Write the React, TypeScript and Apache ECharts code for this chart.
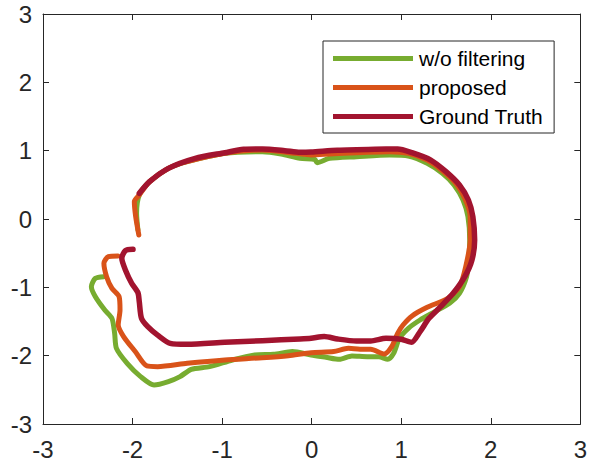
import React, { useEffect, useRef } from "react";
import * as echarts from "echarts";

const seriesNames = ["w/o filtering", "proposed", "Ground Truth"];
const seriesColors = ["#77AC30", "#D95319", "#A2142F"];
const axisTicks = [-3, -2, -1, 0, 1, 2, 3];

const woFiltering: [number, number][] = [
  [-2.32, -0.844], [-2.415, -0.868], [-2.46, -0.99], [-2.415, -1.137], [-2.31, -1.332],
  [-2.23, -1.454], [-2.2, -1.673], [-2.18, -1.893], [-2.06, -2.112], [-1.91, -2.307],
  [-1.76, -2.43], [-1.6, -2.38], [-1.47, -2.307], [-1.345, -2.2], [-1.14, -2.161],
  [-0.885, -2.063], [-0.635, -1.99], [-0.425, -1.98], [-0.215, -1.94], [-0.006, -1.99],
  [0.16, -2.024], [0.31, -2.054], [0.45, -2.005], [0.62, -2.015], [0.75, -2.015],
  [0.85, -2.054], [0.915, -1.966], [0.98, -1.746], [1.08, -1.6], [1.21, -1.478],
  [1.375, -1.356], [1.54, -1.234], [1.65, -1.088], [1.73, -0.844], [1.75, -0.649],
  [1.765, -0.307], [1.745, 0.034], [1.69, 0.278], [1.59, 0.498], [1.46, 0.668],
  [1.29, 0.815], [1.08, 0.922], [0.87, 0.937], [0.5, 0.912], [0.2, 0.888],
  [0.06, 0.824], [0.036, 0.873], [-0.13, 0.888], [-0.34, 0.951], [-0.55, 0.985],
  [-0.97, 0.961], [-1.39, 0.839], [-1.6, 0.741], [-1.81, 0.546], [-1.925, 0.351],
  [-1.955, 0.083], [-1.94, -0.161],
];

const proposed: [number, number][] = [
  [-2.163, -0.541], [-2.27, -0.551], [-2.32, -0.649], [-2.29, -0.844], [-2.23, -1.015],
  [-2.15, -1.137], [-2.14, -1.332], [-2.16, -1.551], [-2.1, -1.72], [-1.97, -1.94],
  [-1.84, -2.151], [-1.72, -2.161], [-1.39, -2.112], [-0.97, -2.063], [-0.55, -2.03],
  [-0.26, -2.0], [-0.006, -1.956], [0.245, -1.94], [0.41, -1.893], [0.54, -1.907],
  [0.66, -1.907], [0.81, -1.976], [0.894, -1.868], [0.96, -1.673], [1.02, -1.551],
  [1.125, -1.415], [1.29, -1.293], [1.52, -1.161], [1.65, -0.99], [1.72, -0.698],
  [1.77, -0.307], [1.77, 0.034], [1.71, 0.302], [1.61, 0.522], [1.46, 0.707],
  [1.29, 0.863], [1.08, 0.961], [0.87, 0.985], [0.5, 0.971], [0.2, 0.951],
  [-0.006, 0.937], [-0.18, 0.961], [-0.55, 1.01], [-0.97, 0.961], [-1.39, 0.839],
  [-1.6, 0.741], [-1.81, 0.546], [-1.925, 0.351], [-1.98, 0.254], [-1.965, 0.034],
  [-1.93, -0.234],
];

const groundTruth: [number, number][] = [
  [-1.995, -0.444], [-2.08, -0.463], [-2.12, -0.576], [-2.08, -0.746], [-2.01, -0.94],
  [-1.94, -1.078], [-1.925, -1.21], [-1.9, -1.454], [-1.83, -1.576], [-1.72, -1.7],
  [-1.58, -1.82], [-1.39, -1.834], [-0.97, -1.805], [-0.55, -1.78], [-0.13, -1.756],
  [-0.007, -1.746], [0.14, -1.72], [0.29, -1.756], [0.5, -1.785], [0.66, -1.785],
  [0.83, -1.746], [1.0, -1.76], [1.115, -1.805], [1.21, -1.65], [1.31, -1.454],
  [1.44, -1.283], [1.58, -1.088], [1.71, -0.844], [1.79, -0.6], [1.82, -0.307],
  [1.8, 0.034], [1.75, 0.278], [1.65, 0.498], [1.5, 0.693], [1.33, 0.863],
  [1.12, 0.97], [0.96, 1.024], [0.705, 1.02], [0.286, 1.005], [-0.006, 0.98],
  [-0.13, 0.976], [-0.3, 1.0], [-0.55, 1.024], [-0.76, 1.02], [-0.97, 0.97],
  [-1.3, 0.888], [-1.6, 0.741], [-1.81, 0.546], [-1.925, 0.376],
];

const seriesData = [woFiltering, proposed, groundTruth];

export default function App() {
  const ref = useRef<HTMLDivElement>(null);
  useEffect(() => {
    document.body.style.margin = "0";
    if (!ref.current) return;
    const chart = echarts.init(ref.current, undefined, { renderer: "svg" });
    const axisColor = "#262626";
    const font = "Liberation Sans, Arial, sans-serif";
    const baseAxis = (show: boolean, margin: number) => ({
      type: "value" as const,
      min: -3,
      max: 3,
      interval: 1,
      splitLine: { show: false },
      axisLine: { show: true, onZero: false, lineStyle: { color: axisColor, width: 1 } },
      axisTick: { show: true, inside: true, length: 6, lineStyle: { color: axisColor, width: 1 } },
      axisLabel: {
        show,
        margin,
        color: axisColor,
        fontSize: 24,
        fontFamily: font,
        formatter: (v: number) => (axisTicks.includes(v) ? String(v) : ""),
      },
    });
    chart.setOption({
      animation: false,
      backgroundColor: "#ffffff",
      grid: { left: 43, right: 8, top: 14, bottom: 42, containLabel: false },
      xAxis: [
        { ...baseAxis(true, 13), position: "bottom" },
        { ...baseAxis(false, 13), position: "top" },
      ],
      yAxis: [
        { ...baseAxis(true, 11), position: "left" },
        { ...baseAxis(false, 11), position: "right" },
      ],
      legend: {
        orient: "vertical",
        left: 323,
        top: 41,
        padding: [7, 11, 6, 10],
        itemWidth: 80,
        itemHeight: 5,
        itemGap: 8,
        icon: "rect",
        backgroundColor: "#ffffff",
        borderColor: axisColor,
        borderWidth: 1,
        borderRadius: 0,
        data: seriesNames,
        textStyle: { fontSize: 21, lineHeight: 21, color: "#000000", fontFamily: font, padding: [0, 0, 0, 1] },
      },
      series: seriesData.map((d, i) => ({
        name: seriesNames[i],
        type: "line",
        data: d,
        showSymbol: false,
        symbol: "none",
        smooth: 0.25,
        color: seriesColors[i],
        lineStyle: { color: seriesColors[i], width: i === 2 ? 5.5 : 5, cap: "round", join: "round" },
        z: 2 + i,
      })),
    });
    return () => chart.dispose();
  }, []);
  return <div ref={ref} style={{ width: 590, height: 466 }} />;
}
